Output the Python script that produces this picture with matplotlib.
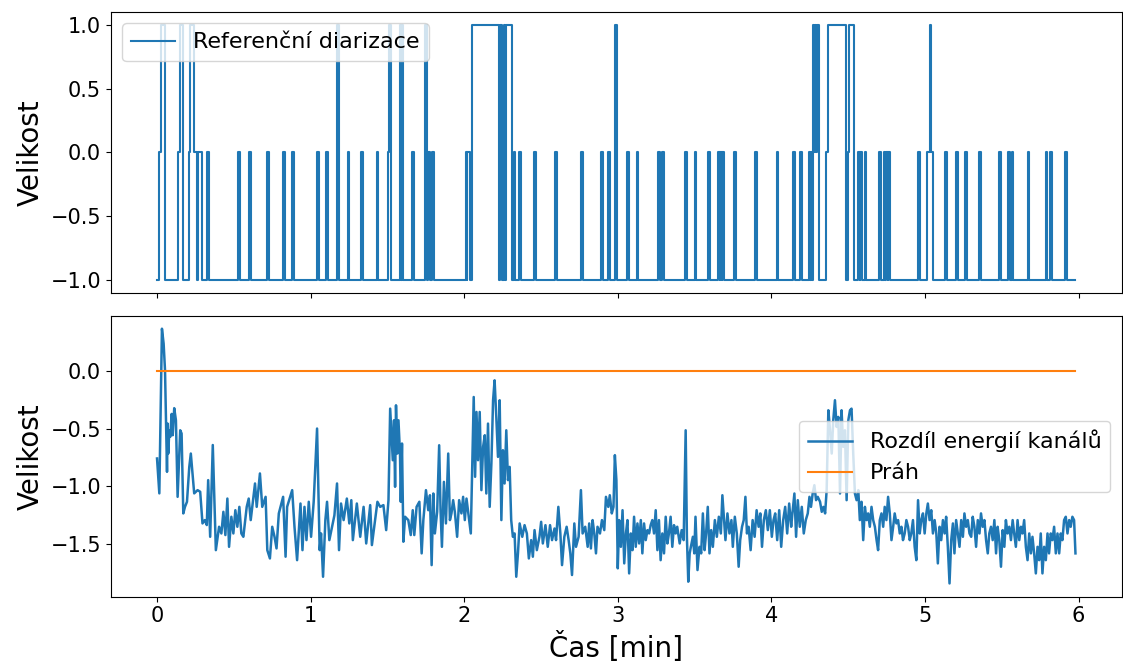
import matplotlib
matplotlib.use("Agg")
import matplotlib.pyplot as plt
import numpy as np

# reference diarization: (time [min], level) change points, drawn as a step
ref_steps = [
    (0.0, -1), (0.013, 0), (0.026, 1), (0.052, -1), (0.136, 0), (0.149, 1), (0.167, -1),
    (0.209, 0), (0.216, 1), (0.242, 0), (0.259, -1), (0.264, 0), (0.290, -1),
    (0.327, 0), (0.339, -1), (0.528, 0), (0.540, -1), (0.597, 0), (0.609, -1),
    (0.716, 0), (0.728, -1), (0.820, 0), (0.832, -1), (0.880, 0), (0.892, -1),
    (1.043, 0), (1.055, -1), (1.101, 0), (1.113, -1), (1.170, 1), (1.182, -1),
    (1.241, 0), (1.253, -1), (1.328, 0), (1.340, -1), (1.429, 0), (1.441, -1),
    (1.506, 0), (1.512, 1), (1.522, -1), (1.580, 1), (1.588, -1), (1.592, 1), (1.604, -1),
    (1.661, 0), (1.673, -1), (1.743, 1), (1.755, -1), (1.766, 0), (1.778, -1),
    (1.792, 0), (1.804, -1), (2.010, 0), (2.016, -1), (2.020, 0), (2.041, -1),
    (2.051, 1), (2.229, -1), (2.236, 1), (2.248, -1), (2.256, 1), (2.268, -1),
    (2.275, 1), (2.313, -1), (2.322, 0), (2.334, -1), (2.359, 0), (2.371, -1),
    (2.454, 0), (2.466, -1), (2.593, 0), (2.605, -1), (2.761, 0), (2.773, -1),
    (2.891, 0), (2.903, -1), (2.938, 0), (2.952, -1), (2.984, 1), (2.996, -1),
    (3.061, 0), (3.073, -1), (3.122, 0), (3.134, -1), (3.262, 0), (3.274, -1),
    (3.290, 0), (3.302, -1), (3.440, 0), (3.452, -1), (3.500, 0), (3.512, -1),
    (3.587, 0), (3.599, -1), (3.651, 0), (3.663, -1), (3.665, 0), (3.676, -1),
    (3.680, 0), (3.692, -1), (3.755, 0), (3.767, -1), (3.893, 0), (3.905, -1),
    (4.034, 0), (4.046, -1), (4.144, 0), (4.156, -1), (4.188, 0), (4.200, -1),
    (4.244, 0), (4.252, -1), (4.256, 0), (4.264, -1), (4.272, 1), (4.280, 0),
    (4.284, 1), (4.292, 0), (4.298, 1), (4.308, 0), (4.311, -1), (4.358, 0),
    (4.368, 1), (4.483, 0), (4.488, -1), (4.497, 0), (4.505, 1), (4.540, -1),
    (4.564, 0), (4.575, -1), (4.578, 0), (4.589, -1), (4.607, 0), (4.619, -1),
    (4.700, 0), (4.712, -1), (4.732, 0), (4.743, -1), (4.747, 0), (4.757, -1),
    (4.762, 0), (4.772, -1), (4.955, 0), (4.967, -1), (5.016, 0), (5.030, 1),
    (5.042, 0), (5.054, -1), (5.132, 0), (5.144, -1), (5.203, 0), (5.215, -1),
    (5.262, 0), (5.274, -1), (5.355, 0), (5.367, -1), (5.485, 0), (5.497, -1),
    (5.539, 0), (5.551, -1), (5.564, 0), (5.576, -1), (5.668, 0), (5.680, -1),
    (5.785, 0), (5.797, -1), (5.813, 0), (5.825, -1), (5.913, 0), (5.925, -1),
    (5.980, -1),
]

# channel energy difference: (time [min], value)
diff_pts = [
    (0.000, -0.757), (0.015, -1.06), (0.032, 0.37), (0.043, 0.24), (0.052, 0.01),
    (0.065, -0.873), (0.069, -0.454), (0.073, -0.714), (0.080, -0.512), (0.086, -0.569),
    (0.095, -0.37), (0.102, -0.555), (0.112, -0.32), (0.123, -0.425), (0.134, -1.09),
    (0.151, -0.512), (0.160, -0.54), (0.171, -1.234), (0.182, -1.177), (0.195, -1.133),
    (0.210, -0.83), (0.220, -0.714), (0.231, -0.887), (0.242, -1.06), (0.264, -1.032),
    (0.281, -1.046), (0.296, -1.321), (0.311, -1.292), (0.324, -1.335), (0.333, -0.945),
    (0.346, -1.437), (0.363, -0.64), (0.383, -1.553), (0.404, -1.35), (0.419, -1.408),
    (0.432, -1.22), (0.445, -1.422), (0.458, -1.105), (0.469, -1.524), (0.484, -1.263),
    (0.497, -1.408), (0.510, -1.206), (0.523, -1.35), (0.536, -1.177), (0.549, -1.408),
    (0.562, -1.437), (0.584, -1.177), (0.597, -1.105), (0.610, -1.292), (0.638, -0.974),
    (0.649, -1.177), (0.670, -0.887), (0.685, -1.177), (0.707, -1.09), (0.718, -1.553),
    (0.735, -1.625), (0.750, -1.35), (0.765, -1.437), (0.778, -1.538), (0.793, -1.234),
    (0.821, -1.09), (0.837, -1.61), (0.847, -1.177), (0.880, -1.032), (0.895, -1.35),
    (0.912, -1.64), (0.934, -1.148), (0.947, -1.553), (0.960, -1.177), (0.973, -1.466),
    (0.988, -1.133), (1.003, -1.437), (1.020, -1.133), (1.042, -0.497), (1.059, -1.553),
    (1.068, -1.408), (1.081, -1.784), (1.096, -1.292), (1.107, -1.133), (1.122, -1.466),
    (1.140, -1.35), (1.155, -1.25), (1.172, -0.974), (1.185, -1.553), (1.198, -1.148),
    (1.215, -1.292), (1.236, -1.105), (1.252, -1.321), (1.265, -1.119), (1.275, -1.466),
    (1.301, -1.148), (1.323, -1.437), (1.345, -1.177), (1.362, -1.495), (1.388, -1.162),
    (1.399, -1.509), (1.435, -1.133),
    (1.453, -1.177), (1.474, -1.162), (1.492, -1.379), (1.507, -1.119), (1.518, -0.324),
    (1.535, -0.772), (1.543, -0.425), (1.550, -1.003), (1.556, -0.295), (1.565, -0.714),
    (1.572, -0.425), (1.582, -0.714), (1.587, -1.133), (1.595, -0.627), (1.604, -1.48),
    (1.615, -1.263), (1.636, -1.292), (1.652, -1.422), (1.665, -1.206), (1.675, -1.422),
    (1.690, -1.177), (1.708, -1.133), (1.723, -1.581), (1.734, -1.292), (1.751, -1.032),
    (1.766, -1.206), (1.777, -1.076), (1.788, -1.683), (1.799, -1.061), (1.809, -1.408),
    (1.824, -1.22), (1.837, -0.642), (1.846, -1.206), (1.855, -1.524), (1.868, -0.96),
    (1.881, -1.321), (1.896, -0.714), (1.907, -1.292), (1.917, -1.234), (1.928, -1.119),
    (1.939, -1.22), (1.954, -1.437), (1.967, -1.119), (1.982, -1.234), (1.993, -1.09),
    (2.004, -1.292), (2.015, -1.105), (2.032, -1.292), (2.043, -1.408), (2.062, -0.223),
    (2.071, -0.916), (2.080, -0.353), (2.090, -0.772), (2.101, -0.353), (2.112, -1.032),
    (2.123, -0.656), (2.134, -0.555), (2.144, -1.061), (2.155, -0.454), (2.166, -1.177),
    (2.177, -0.801), (2.188, -0.251), (2.198, -0.078), (2.209, -0.396), (2.220, -0.743),
    (2.231, -0.251), (2.242, -1.292), (2.252, -0.685), (2.263, -0.974), (2.274, -0.512),
    (2.285, -0.945), (2.296, -0.83), (2.306, -1.292), (2.317, -1.437), (2.328, -1.408),
    (2.339, -1.784), (2.350, -1.581), (2.361, -1.321), (2.378, -1.437), (2.393, -1.336),
    (2.408, -1.408), (2.421, -1.625), (2.436, -1.466), (2.447, -1.61), (2.458, -1.379),
    (2.473, -1.553), (2.490, -1.437), (2.501, -1.307), (2.512, -1.495), (2.529, -1.336),
    (2.544, -1.524), (2.559, -1.336), (2.572, -1.466), (2.588, -1.365), (2.598, -1.466),
    (2.613, -1.177), (2.626, -1.408), (2.637, -1.683), (2.652, -1.437), (2.667, -1.35),
    (2.680, -1.466), (2.691, -1.581), (2.702, -1.769), (2.717, -1.321), (2.728, -1.524),
    (2.745, -1.437), (2.760, -1.032), (2.771, -1.408), (2.788, -1.35), (2.804, -1.524),
    (2.814, -1.321), (2.825, -1.538), (2.836, -1.292), (2.847, -1.408), (2.858, -1.581),
    (2.868, -1.35), (2.884, -1.408), (2.897, -1.292), (2.912, -1.379), (2.923, -1.09),
    (2.938, -1.177), (2.948, -1.076), (2.961, -1.234), (2.972, -1.177), (2.981, -0.728),
    (2.991, -0.945), (3.000, -1.711),
    (3.009, -1.292), (3.020, -1.524), (3.031, -1.206), (3.042, -1.668), (3.053, -1.408),
    (3.063, -1.292), (3.074, -1.755), (3.085, -1.408), (3.096, -1.553), (3.106, -1.263),
    (3.117, -1.524), (3.128, -1.321), (3.139, -1.495), (3.150, -1.292), (3.160, -1.581),
    (3.171, -1.321), (3.182, -1.466), (3.193, -1.379), (3.204, -1.408), (3.214, -1.336),
    (3.225, -1.292), (3.236, -1.408), (3.247, -1.206), (3.258, -1.553), (3.268, -1.292),
    (3.279, -1.64), (3.290, -1.408), (3.301, -1.581), (3.312, -1.263), (3.323, -1.495),
    (3.333, -1.408), (3.344, -1.263), (3.355, -1.524), (3.366, -1.336), (3.377, -1.408),
    (3.387, -1.35), (3.403, -1.495), (3.416, -1.379), (3.429, -1.466), (3.442, -0.512),
    (3.450, -1.437), (3.459, -1.827), (3.468, -1.581), (3.476, -1.524), (3.489, -1.437),
    (3.498, -1.581), (3.506, -1.263), (3.519, -1.726), (3.532, -1.524), (3.543, -1.581),
    (3.554, -1.234), (3.565, -1.553), (3.575, -1.408), (3.586, -1.177), (3.597, -1.581),
    (3.608, -1.379), (3.619, -1.524), (3.632, -1.292), (3.645, -1.437), (3.658, -1.263),
    (3.671, -1.408), (3.681, -1.076), (3.692, -1.292), (3.701, -1.466), (3.714, -1.234),
    (3.727, -1.408), (3.740, -1.292), (3.749, -1.524), (3.762, -1.263), (3.775, -1.408),
    (3.787, -1.697), (3.797, -1.466), (3.809, -1.35), (3.820, -1.292), (3.831, -1.09),
    (3.841, -1.408), (3.852, -1.35), (3.865, -1.553), (3.878, -1.292), (3.891, -1.437),
    (3.904, -1.206), (3.917, -1.35), (3.928, -1.234), (3.939, -1.524), (3.951, -1.292),
    (3.964, -1.206), (3.977, -1.379), (3.990, -1.206), (4.003, -1.437), (4.014, -1.292),
    (4.025, -1.234), (4.038, -1.466), (4.051, -1.206), (4.064, -1.524), (4.077, -1.292),
    (4.090, -1.177), (4.103, -1.408), (4.116, -1.148), (4.129, -1.35), (4.137, -1.234),
    (4.150, -1.061), (4.161, -1.437), (4.172, -1.119), (4.185, -1.35), (4.198, -1.177),
    (4.211, -1.408), (4.224, -1.292), (4.237, -1.234), (4.248, -1.09), (4.258, -1.177),
    (4.269, -1.061), (4.280, -0.989), (4.291, -1.119), (4.302, -1.09), (4.317, -1.133),
    (4.328, -1.22), (4.339, -1.177), (4.350, -1.234), (4.360, -1.032), (4.371, -0.338),
    (4.382, -0.512), (4.393, -0.714), (4.403, -0.425), (4.414, -0.251), (4.425, -0.483),
    (4.436, -0.396), (4.447, -1.061), (4.457, -0.338), (4.468, -0.656), (4.479, -0.512),
    (4.490, -1.119), (4.501, -0.425), (4.512, -0.338), (4.522, -0.324), (4.533, -0.714),
    (4.544, -1.061), (4.555, -1.119), (4.566, -1.032), (4.576, -1.292), (4.587, -1.133),
    (4.598, -1.466), (4.609, -1.177), (4.620, -1.292), (4.630, -1.234), (4.641, -1.35),
    (4.652, -1.177), (4.663, -1.292), (4.674, -1.35), (4.685, -1.466), (4.695, -1.553),
    (4.706, -1.292), (4.717, -1.234), (4.728, -1.35), (4.738, -1.177), (4.749, -1.292),
    (4.760, -1.09), (4.771, -1.234), (4.782, -1.466), (4.793, -1.35), (4.803, -1.234),
    (4.814, -1.321), (4.825, -1.292), (4.836, -1.408), (4.847, -1.35), (4.857, -1.466),
    (4.868, -1.408), (4.879, -1.292), (4.890, -1.35), (4.901, -1.466), (4.911, -1.408),
    (4.922, -1.292), (4.933, -1.524), (4.944, -1.64), (4.955, -1.119), (4.966, -1.408),
    (4.976, -1.292), (4.987, -1.234), (4.998, -1.408), (5.009, -1.234), (5.019, -1.148),
    (5.030, -1.292), (5.041, -1.206), (5.052, -1.408), (5.063, -1.292), (5.074, -1.408),
    (5.084, -1.668), (5.095, -1.35), (5.106, -1.466), (5.117, -1.292), (5.128, -1.408),
    (5.138, -1.263), (5.149, -1.524), (5.160, -1.842), (5.171, -1.466), (5.182, -1.321),
    (5.192, -1.581), (5.203, -1.292), (5.214, -1.408), (5.225, -1.524), (5.236, -1.292),
    (5.247, -1.437), (5.257, -1.234), (5.268, -1.35), (5.279, -1.292), (5.290, -1.408),
    (5.301, -1.437), (5.311, -1.263), (5.322, -1.35), (5.333, -1.524), (5.344, -1.292),
    (5.355, -1.408), (5.365, -1.234), (5.376, -1.35), (5.387, -1.292), (5.398, -1.466),
    (5.409, -1.581), (5.419, -1.408), (5.430, -1.35), (5.441, -1.466), (5.452, -1.292),
    (5.463, -1.581), (5.473, -1.35), (5.484, -1.466), (5.495, -1.697), (5.506, -1.379),
    (5.517, -1.524), (5.527, -1.292), (5.538, -1.408), (5.549, -1.35), (5.560, -1.466),
    (5.571, -1.292), (5.581, -1.408), (5.592, -1.524), (5.603, -1.292), (5.614, -1.466),
    (5.625, -1.35), (5.635, -1.408), (5.646, -1.292), (5.657, -1.524), (5.668, -1.64),
    (5.679, -1.408), (5.690, -1.581), (5.700, -1.437), (5.711, -1.581), (5.722, -1.755),
    (5.733, -1.524), (5.744, -1.64), (5.754, -1.408), (5.765, -1.755), (5.776, -1.524),
    (5.787, -1.64), (5.798, -1.408), (5.808, -1.581), (5.819, -1.408), (5.830, -1.466),
    (5.841, -1.35), (5.852, -1.581), (5.863, -1.408), (5.874, -1.581), (5.884, -1.408),
    (5.895, -1.466), (5.906, -1.292), (5.917, -1.263), (5.928, -1.408), (5.939, -1.292),
    (5.949, -1.35), (5.960, -1.263), (5.971, -1.292), (5.980, -1.581),
]

threshold = 0.0

ref_t, ref_v = zip(*ref_steps)
diff_t, diff_v = zip(*diff_pts)

fig, (ax1, ax2) = plt.subplots(2, 1, sharex=True, figsize=(11.23, 6.64), dpi=100)
fig.subplots_adjust(left=0.0988, right=0.9987, top=0.9815, bottom=0.1014, hspace=0.085)

ax1.step(ref_t, ref_v, where='post', color='C0', lw=1.5, label='Referenční diarizace')
ax1.set_ylim(-1.1, 1.1)
ax1.set_ylabel('Velikost', fontsize=20)
ax1.legend(loc='upper left', fontsize=16)

ax2.plot(diff_t, diff_v, color='C0', lw=1.8, label='Rozdíl energií kanálů')
ax2.plot([diff_t[0], diff_t[-1]], [threshold, threshold], color='C1', lw=1.5, label='Práh')
ax2.set_ylim(-1.957, 0.477)
ax2.set_xlim(-0.3, 6.28)
ax2.set_ylabel('Velikost', fontsize=20)
ax2.set_xlabel('Čas [min]', fontsize=20)
ax2.legend(loc='center right', fontsize=16)

for ax in (ax1, ax2):
    ax.tick_params(labelsize=15)

fig.savefig('out.png', dpi=100)
